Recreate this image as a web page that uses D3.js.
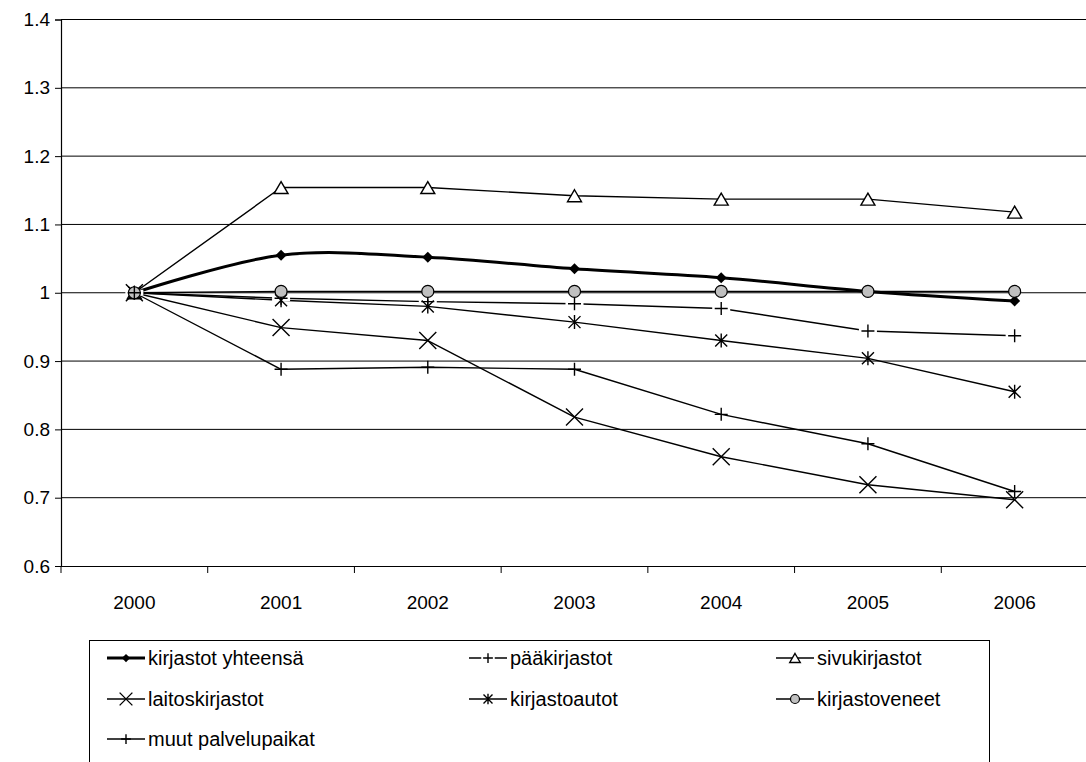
<!DOCTYPE html>
<html>
<head>
<meta charset="utf-8">
<script src="https://cdn.jsdelivr.net/npm/d3@7"></script>
<style>
  html, body { margin: 0; padding: 0; background: #fff; }
  svg { display: block; font-family: "Liberation Sans", Arial, sans-serif; }
</style>
</head>
<body>
<svg id="chart" width="1086" height="762"></svg>
<script>
// Library service points relative to year 2000 (index 2000 = 1)
const years = ["2000", "2001", "2002", "2003", "2004", "2005", "2006"];
const yTicks = [0.6, 0.7, 0.8, 0.9, 1.0, 1.1, 1.2, 1.3, 1.4];

const kirjastotYhteensa = [1.000, 1.055, 1.052, 1.035, 1.022, 1.002, 0.988];
const paakirjastot      = [1.000, 0.992, 0.987, 0.984, 0.977, 0.944, 0.937];
const sivukirjastot     = [1.000, 1.154, 1.154, 1.142, 1.137, 1.137, 1.118];
const laitoskirjastot   = [1.000, 0.949, 0.930, 0.818, 0.760, 0.719, 0.697];
const kirjastoautot     = [1.000, 0.989, 0.980, 0.957, 0.930, 0.904, 0.855];
const kirjastoveneet    = [1.000, 1.002, 1.002, 1.002, 1.002, 1.002, 1.002];
const muutPalvelupaikat = [1.000, 0.888, 0.891, 0.888, 0.822, 0.779, 0.709];

const series = [
  { name: "kirjastot yhteensä", values: kirjastotYhteensa, marker: "diamond",  width: 3,   smooth: true },
  { name: "pääkirjastot",       values: paakirjastot,      marker: "plusBox",  width: 1.4 },
  { name: "sivukirjastot",      values: sivukirjastot,     marker: "triangle", width: 1.4 },
  { name: "laitoskirjastot",    values: laitoskirjastot,   marker: "cross",    width: 1.4 },
  { name: "kirjastoautot",      values: kirjastoautot,     marker: "star",     width: 1.4 },
  { name: "kirjastoveneet",     values: kirjastoveneet,    marker: "circle",   width: 1.4 },
  { name: "muut palvelupaikat", values: muutPalvelupaikat, marker: "plus",     width: 1.4 }
];

const svg = d3.select("#chart");
const plot = { left: 61, right: 1088, top: 19.5, bottom: 566 };

const x = d3.scaleBand().domain(years).range([plot.left, plot.right]).padding(0);
const cx = d => x(d) + x.bandwidth() / 2;
const y = d3.scaleLinear().domain([0.6, 1.4]).range([plot.bottom, plot.top]);

// horizontal gridlines
svg.append("g")
  .selectAll("line")
  .data(yTicks.slice(1))
  .join("line")
  .attr("x1", plot.left).attr("x2", plot.right)
  .attr("y1", d => y(d)).attr("y2", d => y(d))
  .attr("stroke", "#000").attr("stroke-width", 1);

// value axis
const yAxis = svg.append("g")
  .attr("transform", `translate(${plot.left},0)`)
  .call(d3.axisLeft(y).tickValues(yTicks).tickSize(6).tickPadding(5)
    .tickFormat(d => d === 1 ? "1" : d3.format(".1f")(d)));
yAxis.select(".domain").attr("stroke", "#000").attr("stroke-width", 1.2);
yAxis.selectAll(".tick line").attr("stroke", "#000");
yAxis.selectAll("text").attr("font-size", 19).attr("fill", "#000")
  .attr("font-family", "Liberation Sans, Arial, sans-serif");

// category axis: labels centred in bands, tick marks between categories
const xAxis = svg.append("g")
  .attr("transform", `translate(0,${plot.bottom})`)
  .call(d3.axisBottom(x).tickSize(0).tickPadding(30));
xAxis.select(".domain").attr("stroke", "#000").attr("stroke-width", 1.2);
xAxis.selectAll("text").attr("font-size", 19).attr("fill", "#000")
  .attr("font-family", "Liberation Sans, Arial, sans-serif");
svg.append("g")
  .selectAll("line")
  .data(years)
  .join("line")
  .attr("x1", d => x(d)).attr("x2", d => x(d))
  .attr("y1", plot.bottom).attr("y2", plot.bottom + 7)
  .attr("stroke", "#000").attr("stroke-width", 1);

// marker shapes, drawn around (0,0)
function drawMarker(g, type, s) {
  const sw = 1.4;
  switch (type) {
    case "diamond":
      g.append("path").attr("d", `M0,${-5.5*s}L${5.5*s},0L0,${5.5*s}L${-5.5*s},0Z`).attr("fill", "#000");
      break;
    case "plusBox":
      g.append("rect").attr("x", -9*s).attr("y", -3*s).attr("width", 18*s).attr("height", 6*s).attr("fill", "#fff");
      g.append("path").attr("d", `M${-6.5*s},0H${6.5*s}M0,${-6.5*s}V${6.5*s}`).attr("stroke", "#000").attr("stroke-width", sw);
      break;
    case "triangle":
      g.append("path").attr("d", `M0,${-6*s}L${7*s},${6*s}L${-7*s},${6*s}Z`)
        .attr("fill", "#fff").attr("stroke", "#000").attr("stroke-width", sw);
      break;
    case "cross":
      g.append("path").attr("d", `M${-8.5*s},${-8.5*s}L${8.5*s},${8.5*s}M${8.5*s},${-8.5*s}L${-8.5*s},${8.5*s}`)
        .attr("stroke", "#000").attr("stroke-width", sw);
      break;
    case "star":
      g.append("path").attr("d", `M${-6*s},${-6*s}L${6*s},${6*s}M${6*s},${-6*s}L${-6*s},${6*s}M0,${-7*s}V${7*s}`)
        .attr("stroke", "#000").attr("stroke-width", sw);
      break;
    case "circle":
      g.append("circle").attr("r", 6*s).attr("fill", "#c0c0c0").attr("stroke", "#000").attr("stroke-width", 1.2);
      break;
    case "plus":
      g.append("path").attr("d", `M${-6.5*s},0H${6.5*s}M0,${-6.5*s}V${6.5*s}`).attr("stroke", "#000").attr("stroke-width", sw);
      break;
  }
}

// lines first, then markers on top
const lines = svg.append("g").attr("fill", "none");
series.forEach(sr => {
  const gen = d3.line()
    .x((d, i) => cx(years[i]))
    .y(d => y(d))
    .curve(sr.smooth ? d3.curveCardinal.tension(0) : d3.curveLinear);
  lines.append("path")
    .attr("d", gen(sr.values))
    .attr("stroke", "#000")
    .attr("stroke-width", sr.width)
    .attr("stroke-linejoin", "round");
});

const markers = svg.append("g");
series.forEach(sr => {
  sr.values.forEach((v, i) => {
    const g = markers.append("g").attr("transform", `translate(${cx(years[i])},${y(v)})`);
    drawMarker(g, sr.marker, 1);
  });
});

// legend
const legend = svg.append("g");
legend.append("rect")
  .attr("x", 89.5).attr("y", 640.5).attr("width", 900).attr("height", 140)
  .attr("fill", "#fff").attr("stroke", "#000").attr("stroke-width", 1);

const colX = [107, 469, 776];
const rowY = [658, 699, 739];
series.forEach((sr, i) => {
  const lx = colX[i % 3], ly = rowY[Math.floor(i / 3)];
  const item = legend.append("g").attr("transform", `translate(${lx},${ly})`);
  item.append("line").attr("x1", 0).attr("x2", 38).attr("y1", 0).attr("y2", 0)
    .attr("stroke", "#000").attr("stroke-width", sr.width);
  const m = item.append("g").attr("transform", "translate(19,0)");
  drawMarker(m, sr.marker, 0.75);
  item.append("text")
    .attr("x", 41).attr("y", 0).attr("dy", "0.35em")
    .attr("font-size", 20).attr("fill", "#000")
    .text(sr.name);
});
</script>
</body>
</html>
